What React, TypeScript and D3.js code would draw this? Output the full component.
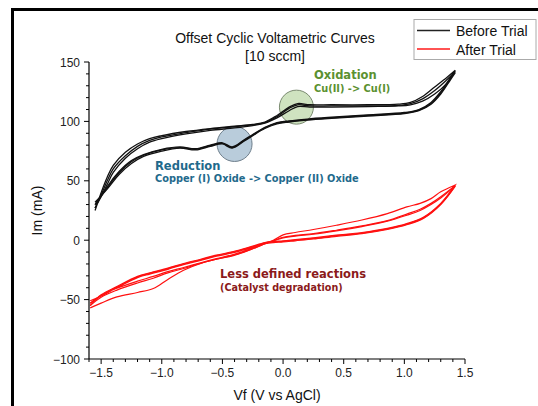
import React from 'react';
import * as d3 from 'd3';

const W = 538;
const H = 406;

const xTicks = [-1.5, -1.0, -0.5, 0.0, 0.5, 1.0, 1.5];
const yTicks = [-100, -50, 0, 50, 100, 150];

// Before Trial: forward sweep (left -> right), three cycles
const beforeFwdV = [-1.55, -1.5, -1.45, -1.4, -1.3, -1.2, -1.1, -1.0, -0.8, -0.6, -0.4, -0.25, -0.15, -0.05, 0.05, 0.12, 0.22, 0.4, 0.7, 0.95, 1.05, 1.15, 1.25, 1.35, 1.42];
const beforeFwdI = [
  [25, 40, 53, 63, 74, 81, 85.5, 88, 91.5, 94, 96, 97.5, 99.5, 105, 112, 115, 114, 114, 114, 114.5, 116, 121, 129, 137, 143],
  [27, 38, 50, 60, 71, 79, 84, 87, 90.5, 93.5, 95.5, 97, 99, 104, 111, 114, 113, 113, 113, 113.5, 115, 119, 126, 135, 142],
  [30, 37, 47, 57, 69, 77, 82.5, 85.5, 89.5, 92.5, 94.5, 96.5, 98.5, 103, 109, 112.5, 112, 112, 112.5, 113, 114, 117, 123, 132, 141],
];
// Before Trial: reverse sweep (right -> left)
const beforeRevV = [1.42, 1.38, 1.3, 1.22, 1.12, 1.0, 0.7, 0.4, 0.2, 0.05, -0.05, -0.15, -0.25, -0.32, -0.42, -0.5, -0.6, -0.72, -0.85, -1.0, -1.15, -1.25, -1.35, -1.45, -1.55];
const beforeRevI = [
  [143, 137, 125, 116, 110, 107.5, 105.5, 103.5, 102, 100.5, 99, 95, 89, 84.5, 78.5, 82, 80, 77, 78.5, 76.5, 72, 67, 58, 45, 27],
  [142, 136, 124, 115, 109.5, 107, 105, 103, 101.5, 100, 98.5, 94.5, 88.5, 84, 78, 81.5, 79.5, 76.5, 78, 76, 71.5, 66, 57, 44, 30],
  [141, 135, 123, 114.5, 109, 106.5, 104.5, 102.5, 101, 99.5, 98, 94, 88, 83.5, 77.5, 81, 79, 76, 77.5, 75, 70.5, 64.5, 55.5, 43, 32],
];

// After Trial: forward sweep
const afterFwdV = [-1.59, -1.5, -1.37, -1.2, -1.07, -0.95, -0.82, -0.68, -0.55, -0.41, -0.27, -0.15, -0.08, 0.0, 0.1, 0.25, 0.44, 0.65, 0.86, 1.02, 1.13, 1.22, 1.3, 1.42];
const afterFwdI = [
  [-57, -53, -47.7, -44, -40.7, -33, -25.3, -19.6, -16, -13, -8, -3, 0, 4.5, 6.5, 9, 12.6, 17, 22.4, 28, 31, 35, 40.7, 46.5],
  [-55, -48, -42, -36, -32, -27.5, -23.8, -19.5, -16, -12.5, -8, -3, -0.5, 2.5, 4, 5.5, 8.4, 12, 16.5, 22, 26, 31, 36.5, 46],
  [-53, -46.5, -40.5, -34.5, -30.5, -26.5, -23, -19, -15.5, -12, -7.5, -2.5, -0.5, 2, 3.5, 5, 7.8, 11.5, 16, 21, 25, 30, 35.5, 45.5],
];
// After Trial: reverse sweep
const afterRevV = [1.42, 1.3, 1.16, 1.02, 0.86, 0.65, 0.44, 0.25, 0.1, 0.0, -0.08, -0.15, -0.27, -0.41, -0.55, -0.68, -0.82, -0.95, -1.1, -1.2, -1.37, -1.5, -1.59];
const afterRevI = [
  [46.5, 31, 19.6, 14, 10, 6.5, 4.2, 2, 0.5, -0.5, -1, -2, -5.6, -9.5, -12.6, -16, -19.6, -23.5, -27.5, -30.5, -39, -46, -55],
  [46, 30.5, 19, 13.5, 9.5, 6, 3.8, 1.5, 0, -1, -1.5, -2.5, -6, -10, -13, -16.5, -20, -24, -28, -31, -39.5, -46.5, -53],
  [45.5, 30, 18.5, 13, 9, 5.5, 3.3, 1, -0.5, -1.5, -2, -3, -6.5, -10.5, -13.5, -17, -20.5, -24.5, -28.5, -31.5, -40, -47, -51],
];

const legendItems = [
  { label: 'Before Trial', color: '#222' },
  { label: 'After Trial', color: '#ff1a1a' },
];

function cycles(fv: number[], fi: number[][], rv: number[], ri: number[][]) {
  return fi.map((row, c) =>
    fv.map((v, i) => [v, row[i]] as [number, number])
      .concat(rv.map((v, i) => [v, ri[c][i]] as [number, number]))
  );
}

export default function App() {
  const x = d3.scaleLinear().domain([-1.6, 1.5]).range([89, 465]);
  const y = d3.scaleLinear().domain([-100, 150]).range([359, 62]);

  const line = d3.line<[number, number]>()
    .x(d => x(d[0]))
    .y(d => y(d[1]))
    .curve(d3.curveCatmullRom.alpha(0.5));

  const before = cycles(beforeFwdV, beforeFwdI, beforeRevV, beforeRevI);
  const after = cycles(afterFwdV, afterFwdI, afterRevV, afterRevI);

  const fmtX = d3.format('.1f');
  const xMinor = d3.range(-16, 16).map(v => v / 10);
  const yMinor = d3.range(-100, 151, 10);

  const font = '"Liberation Sans", Arial, sans-serif';
  const annFont = '"DejaVu Sans", Verdana, sans-serif';

  return (
    <svg width={W} height={H} style={{ position: 'absolute', left: 0, top: 0, background: '#fff' }}>
      <rect x={0} y={0} width={W} height={H} fill="#fff" />
      {/* frame */}
      <rect x={11} y={8} width={W - 11} height={3} fill="#000" />
      <rect x={11} y={8} width={3} height={H - 8} fill="#000" />

      {/* title */}
      <text x={275} y={43} textAnchor="middle" fontFamily={font} fontSize={14} fill="#111">Offset Cyclic Voltametric Curves</text>
      <text x={275} y={61} textAnchor="middle" fontFamily={font} fontSize={14} fill="#111">[10 sccm]</text>

      {/* highlight circles */}
      <circle cx={x(0.11)} cy={y(112)} r={17} fill="#cfe3c0" stroke="#7a8a70" strokeWidth={1} />
      <circle cx={x(-0.4)} cy={y(81)} r={17.5} fill="#b9ccdb" stroke="#6f7f8c" strokeWidth={1} />

      {/* curves */}
      {before.map((pts, i) => (
        <path key={'b' + i} d={line(pts) || ''} fill="none" stroke="#111" strokeWidth={1.3} />
      ))}
      {after.map((pts, i) => (
        <path key={'a' + i} d={line(pts) || ''} fill="none" stroke="#ff1010" strokeWidth={1.2} />
      ))}

      {/* axes */}
      <line x1={89} x2={89} y1={y(150)} y2={y(-100)} stroke="#000" strokeWidth={1.2} />
      <line x1={89} x2={465} y1={359} y2={359} stroke="#000" strokeWidth={1.2} />
      {yMinor.map(v => (
        <line key={'ym' + v} x1={89} x2={v % 50 === 0 ? 84 : 86} y1={y(v)} y2={y(v)} stroke="#000" strokeWidth={1} />
      ))}
      {xMinor.map(v => (
        <line key={'xm' + v} x1={x(v)} x2={x(v)} y1={359} y2={Math.abs(Math.round(v * 10)) % 5 === 0 ? 364 : 362} stroke="#000" strokeWidth={1} />
      ))}
      {yTicks.map(v => (
        <text key={'yl' + v} x={80} y={y(v) + 4.5} textAnchor="end" fontFamily={font} fontSize={12} fill="#222">{d3.format('d')(v)}</text>
      ))}
      {xTicks.map(v => (
        <text key={'xl' + v} x={x(v)} y={377} textAnchor="middle" fontFamily={font} fontSize={12} fill="#222">{fmtX(v)}</text>
      ))}
      <text x={277} y={400} textAnchor="middle" fontFamily={font} fontSize={14} fill="#111">Vf (V vs AgCl)</text>
      <text transform={`translate(42,${(y(150) + y(-100)) / 2}) rotate(-90)`} textAnchor="middle" fontFamily={font} fontSize={14} fill="#111">Im (mA)</text>

      {/* annotations */}
      <text x={314} y={79} fontFamily={annFont} fontWeight="bold" fontSize={11.5} fill="#5b9130">Oxidation</text>
      <text x={314} y={91.5} fontFamily={annFont} fontWeight="bold" fontSize={9.8} fill="#5b9130">Cu(II) -&gt; Cu(I)</text>
      <text x={155} y={169.5} fontFamily={annFont} fontWeight="bold" fontSize={11.5} fill="#1f6a8c">Reduction</text>
      <text x={155} y={182} fontFamily={annFont} fontWeight="bold" fontSize={9.8} fill="#1f6a8c">Copper (I) Oxide -&gt; Copper (II) Oxide</text>
      <text x={220} y={278} fontFamily={annFont} fontWeight="bold" fontSize={11.5} fill="#8b1a1a">Less defined reactions</text>
      <text x={220} y={291} fontFamily={annFont} fontWeight="bold" fontSize={9.6} fill="#8b1a1a">(Catalyst degradation)</text>

      {/* legend */}
      <rect x={414} y={19.5} width={122} height={40} fill="#fff" stroke="#aaa" strokeWidth={1} />
      {legendItems.map((d, i) => (
        <g key={d.label}>
          <line x1={417} x2={450} y1={30.5 + i * 18.5} y2={30.5 + i * 18.5} stroke={d.color} strokeWidth={1.3} />
          <text x={456} y={36 + i * 18.5} fontFamily={font} fontSize={14} fill="#111">{d.label}</text>
        </g>
      ))}
    </svg>
  );
}
